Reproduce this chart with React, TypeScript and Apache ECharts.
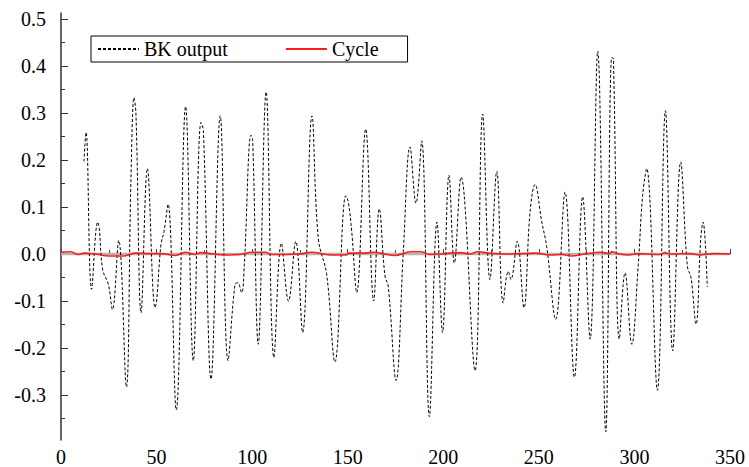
import React, { useEffect, useRef } from "react";
import * as echarts from "echarts";

const bkX = [12.0, 13.1, 16.0, 19.2, 20.0, 21.8, 24.8, 26.9, 30.2, 34.2, 36.6, 38.2, 39.2, 41.9, 45.2, 49.2, 50.0, 52.3, 53.9, 56.0, 60.3, 65.2, 69.2, 73.2, 74.5, 78.5, 83.3, 87.4, 91.0, 92.4, 94.5, 95.9, 99.4, 100.3, 103.2, 107.3, 111.4, 115.3, 119.0, 122.8, 126.4, 131.3, 134.6, 139.0, 143.3, 149.0, 150.3, 152.1, 154.7, 159.4, 163.6, 166.5, 169.5, 171.2, 175.3, 179.1, 182.6, 185.7, 188.7, 192.7, 196.7, 199.6, 203.0, 205.8, 209.3, 216.6, 220.6, 224.4, 228.0, 231.3, 234.0, 235.4, 238.7, 242.2, 245.4, 248.0, 251.5, 254.1, 258.8, 263.7, 268.6, 272.9, 276.8, 280.8, 285.0, 288.1, 289.0, 292.1, 295.1, 298.6, 302.0, 304.3, 306.4, 312.0, 316.2, 320.0, 324.2, 327.7, 329.6, 332.2, 334.7, 335.9, 338.1];
const bkY = [0.197, 0.259, -0.075, 0.068, 0.055, -0.033, -0.065, -0.118, 0.029, -0.283, 0.16, 0.333, 0.3, -0.125, 0.182, -0.114, -0.1, 0.02, 0.048, 0.106, -0.332, 0.314, -0.227, 0.28, 0.263, -0.266, 0.294, -0.227, -0.065, -0.061, -0.082, -0.023, 0.253, 0.241, -0.192, 0.345, -0.22, 0.023, -0.1, 0.027, -0.167, 0.294, 0.034, -0.044, -0.23, 0.124, 0.111, 0.048, -0.082, 0.266, -0.1, 0.096, -0.047, -0.068, -0.269, 0.006, 0.228, 0.108, 0.241, -0.346, 0.068, -0.167, 0.168, -0.019, 0.164, -0.248, 0.298, -0.054, 0.176, -0.104, -0.037, -0.054, 0.027, -0.114, 0.09, 0.148, 0.069, 0.016, -0.139, 0.132, -0.262, 0.122, -0.181, 0.432, -0.378, 0.418, 0.416, -0.181, -0.04, -0.192, -0.023, 0.125, 0.182, -0.29, 0.305, -0.206, 0.196, -0.026, -0.05, -0.149, 0.034, 0.068, -0.07];

const cycleX = [0, 5, 9, 12.5, 18, 25, 33, 39, 47, 52, 60, 65, 70, 73, 80, 87, 93.6, 100, 107, 110, 118, 125, 131, 141, 149, 151, 159, 164, 167, 175, 183, 188, 193, 201, 209, 214, 218, 224, 235, 248, 256, 262, 267, 274, 282, 287, 288, 292, 297, 302, 307, 313, 316, 318.5, 329, 334, 342, 350];
const cycleY = [0.004, 0.005, -0.001, 0.002, 0, -0.004, -0.004, 0.002, 0.001, 0.001, -0.003, 0.004, -0.001, 0.003, 0, -0.002, -0.001, 0.004, 0.004, -0.001, -0.001, 0, 0.004, -0.002, -0.002, 0.002, 0.002, 0.004, 0.002, -0.003, 0.005, 0.005, -0.001, 0.001, 0.003, 0, 0.005, 0.002, 0, 0.002, -0.002, -0.001, -0.004, 0, 0.004, 0.001, 0.005, 0, -0.002, 0.001, 0, -0.001, 0.003, 0, 0.001, -0.002, 0.001, 0];

const zeroX = [0, 350];
const zeroY = [0, 0];

const yMajorTicks = [-0.3, -0.2, -0.1, 0.0, 0.1, 0.2, 0.3, 0.4, 0.5];
const yMinorTicks = [-0.35, -0.25, -0.15, -0.05, 0.05, 0.15, 0.25, 0.35, 0.45];

const FONT = "Liberation Serif";

export default function App() {
  const ref = useRef<HTMLDivElement>(null);
  useEffect(() => {
    if (!ref.current) return;
    const chart = echarts.init(ref.current, null, { renderer: "svg" });
    const zip = (xs: number[], ys: number[]) => xs.map((x, i) => [x, ys[i]]);
    const yMin = -0.3957;
    const yMax = 0.513;
    chart.setOption({
      animation: false,
      backgroundColor: "#ffffff",
      grid: { left: 61, right: 19, top: 13, bottom: 24, containLabel: false },
      legend: {
        data: ["BK output", "Cycle"],
        left: 91,
        top: 36,
        orient: "horizontal",
        padding: [3, 29, 3, 6],
        itemGap: 57,
        itemWidth: 41,
        itemHeight: 14,
        borderColor: "#000",
        borderWidth: 1,
        backgroundColor: "#fff",
        itemStyle: { opacity: 0 },
        textStyle: { fontFamily: FONT, fontSize: 20, color: "#000" },
      },
      xAxis: {
        type: "value",
        min: 0,
        max: 350,
        interval: 50,
        axisLine: { show: true, lineStyle: { color: "#444", width: 1.5 } },
        axisTick: { show: true, inside: true, length: 5, lineStyle: { color: "#444" } },
        minorTick: { show: true, splitNumber: 2, length: 4, lineStyle: { color: "#444" } },
        splitLine: { show: false },
        minorSplitLine: { show: false },
        axisLabel: { fontFamily: FONT, fontSize: 20, color: "#000", margin: 7 },
      },
      yAxis: [
        {
          type: "value",
          min: yMin,
          max: yMax,
          position: "left",
          axisLine: { show: true, lineStyle: { color: "#333", width: 1.5 } },
          axisTick: { show: true, inside: true, length: 7, customValues: yMajorTicks, lineStyle: { color: "#333" } },
          splitLine: { show: false },
          axisLabel: {
            customValues: yMajorTicks,
            fontFamily: FONT,
            fontSize: 20,
            color: "#000",
            margin: 15,
            formatter: (v: number) => v.toFixed(1),
          },
        },
        {
          type: "value",
          min: yMin,
          max: yMax,
          position: "left",
          offset: 0,
          axisLine: { show: false },
          axisTick: { show: true, inside: true, length: 4, customValues: yMinorTicks, lineStyle: { color: "#333" } },
          axisLabel: { show: false },
          splitLine: { show: false },
        },
      ],
      series: [
        {
          name: "zero",
          type: "line",
          data: zip(zeroX, zeroY),
          showSymbol: false,
          symbol: "none",
          lineStyle: { color: "#b4b4b4", width: 2.5 },
          silent: true,
          z: 1,
        },
        {
          name: "BK output",
          type: "line",
          data: zip(bkX, bkY),
          showSymbol: false,
          symbol: "none",
          smooth: 0.4,
          lineStyle: { color: "#000", width: 1, type: [3, 2] },
          itemStyle: { color: "#000" },
          z: 2,
        },
        {
          name: "Cycle",
          type: "line",
          data: zip(cycleX, cycleY),
          showSymbol: false,
          symbol: "none",
          smooth: 0.4,
          lineStyle: { color: "#ff1a1a", width: 1.6 },
          itemStyle: { color: "#ff1a1a" },
          z: 3,
        },
      ],
    });
    return () => chart.dispose();
  }, []);
  return (
    <div
      ref={ref}
      style={{ position: "fixed", left: 0, top: 0, width: 749, height: 467, background: "#fff" }}
    />
  );
}
